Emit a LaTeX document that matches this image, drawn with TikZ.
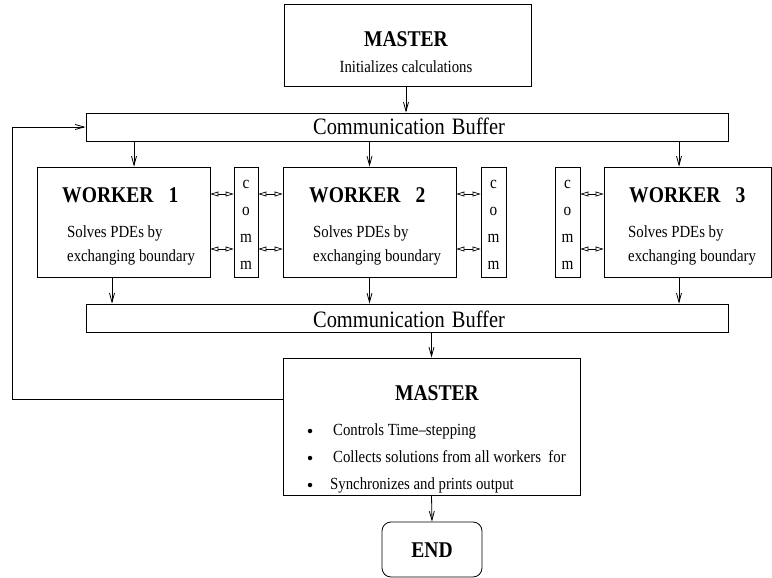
\documentclass[tikz,border=0pt]{standalone}
\usepackage{fontspec}
\setmainfont{Liberation Serif}[FakeStretch=0.87]
\usetikzlibrary{arrows.meta}
\begin{document}
\begin{tikzpicture}[x=1pt,y=-1pt,
  box/.style={draw,line width=0.8pt,inner sep=0pt},
  arr/.style={line width=0.8pt,-{Straight Barb[length=9pt,width=5pt]}},
  darr/.style={line width=0.7pt,{Triangle[open,length=8pt,width=5pt]}-{Triangle[open,length=8pt,width=5pt]}},
  txt/.style={inner sep=0pt},
  big/.style={txt,font=\fontsize{22.5}{27}\selectfont\bfseries},
  mid/.style={txt,font=\fontsize{17}{20}\selectfont},
  buf/.style={txt,font=\fontsize{23.5}{28}\selectfont},
  letter/.style={txt,font=\fontsize{17.5}{20}\selectfont},
  dot/.style={circle,fill,inner sep=0pt,minimum size=4.5pt},
]
\useasboundingbox (0,0) rectangle (772,578);

% boxes
\node[box,minimum width=247pt,minimum height=82pt] (m1) at (407.5,45) {};
\node[box,minimum width=642pt,minimum height=28pt] (b1) at (407,127) {};
\node[box,minimum width=173pt,minimum height=110pt] (w1) at (123.5,222) {};
\node[box,minimum width=24pt,minimum height=110pt] (c1) at (246,222) {};
\node[box,minimum width=173pt,minimum height=110pt] (w2) at (369.5,222) {};
\node[box,minimum width=25pt,minimum height=110pt] (c2) at (493.5,222) {};
\node[box,minimum width=25pt,minimum height=110pt] (c3) at (567.5,222) {};
\node[box,minimum width=167pt,minimum height=110pt] (w3) at (687.5,222) {};
\node[box,minimum width=642pt,minimum height=28pt] (b2) at (407,318) {};
\node[box,minimum width=297pt,minimum height=137pt] (m2) at (431.5,426.5) {};
\node[box,rounded corners=9pt,minimum width=100pt,minimum height=55pt] (e) at (432,549.5) {};

% texts
\node[big,anchor=base] (m1a) at (406,47) {MASTER};
\node[mid,anchor=base] (m1b) at (406,73) {Initializes calculations};
\node[buf,anchor=base] (b1t) at (409,135) {Communication\hspace{7pt}Buffer};
\node[buf,anchor=base] (b2t) at (409,327) {Communication\hspace{7pt}Buffer};

\node[big,anchor=base west] (w1a) at (62,202) {WORKER\hspace{15pt}1};
\node[mid,anchor=base west] (w1b) at (67,237) {Solves PDEs by};
\node[mid,anchor=base west] (w1c) at (67,261) {exchanging boundary};
\node[big,anchor=base west] (w2a) at (309,202) {WORKER\hspace{15pt}2};
\node[mid,anchor=base west] (w2b) at (313,237) {Solves PDEs by};
\node[mid,anchor=base west] (w2c) at (313,261) {exchanging boundary};
\node[big,anchor=base west] (w3a) at (629,202) {WORKER\hspace{15pt}3};
\node[mid,anchor=base west] (w3b) at (628,237) {Solves PDEs by};
\node[mid,anchor=base west] (w3c) at (628,261) {exchanging boundary};

\foreach \cx/\cn in {246/1,493.5/2,567.5/3}{
  \foreach \l/\y in {c/188,o/215,m/242,m/269}{
    \node[letter,anchor=base] (l\cn-\y) at (\cx,\y) {\l};
  }
}

\node[big,anchor=base] (m2a) at (437,400) {MASTER};
\node[dot] (d1) at (310,431) {};
\node[dot] (d2) at (310,458) {};
\node[dot] (d3) at (310,485) {};
\node[mid,anchor=base west] (m2b) at (333,435) {Controls Time–stepping};
\node[mid,anchor=base west] (m2c) at (333,462) {Collects solutions from all workers\ \ for};
\node[mid,anchor=base west] (m2d) at (330,489) {Synchronizes and prints output};
\node[big,anchor=base] (et) at (432,557) {END};

% helper coordinates
\coordinate (xa) at (134,0);
\coordinate (xb) at (112,0);
\coordinate (xc) at (679,0);
\coordinate (xm) at (406,0);
\coordinate (xl) at (12,0);
\coordinate (yl) at (0,399);
\coordinate (ya) at (0,194);
\coordinate (yb) at (0,249);

% connectors
\draw[arr] (m1.south -| xm) -- (b1.north -| xm);
\draw[arr] (b1.south -| xa) -- (w1.north -| xa);
\draw[arr] (b1.south -| w2.north) -- (w2.north);
\draw[arr] (b1.south -| xc) -- (w3.north -| xc);
\draw[arr] (w1.south -| xb) -- (b2.north -| xb);
\draw[arr] (w2.south) -- (b2.north -| w2.south);
\draw[arr] (w3.south -| xc) -- (b2.north -| xc);
\draw[arr] (b2.south -| m2.north) -- (m2.north);
\draw[arr] (m2.south) -- (e.north);
\draw[arr] (m2.west |- yl) -| (xl |- b1.west) -- (b1.west);

\foreach \yy in {ya,yb}{
  \draw[darr] (w1.east |- \yy) -- (c1.west |- \yy);
  \draw[darr] (c1.east |- \yy) -- (w2.west |- \yy);
  \draw[darr] (w2.east |- \yy) -- (c2.west |- \yy);
  \draw[darr] (c3.east |- \yy) -- (w3.west |- \yy);
}
\end{tikzpicture}
\end{document}
